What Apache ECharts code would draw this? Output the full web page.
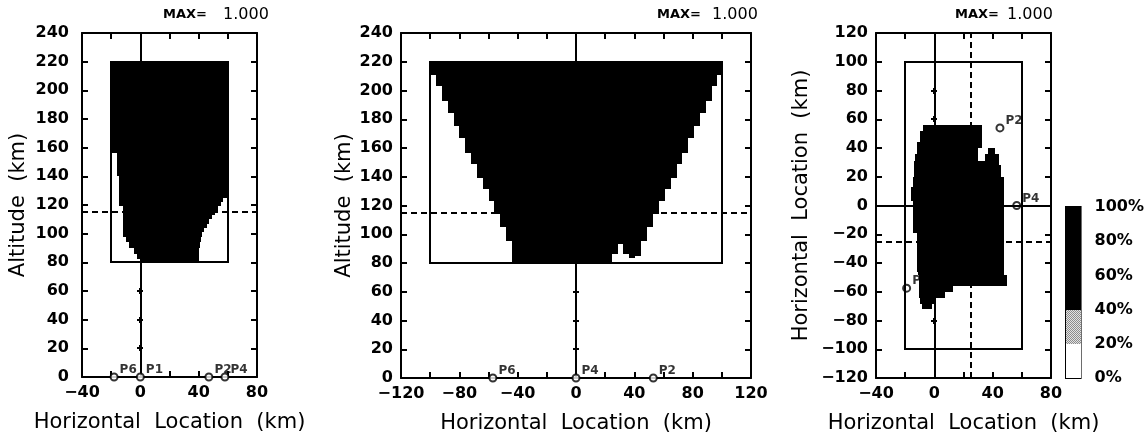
<!DOCTYPE html>
<html>
<head>
<meta charset="utf-8">
<script src="https://cdn.jsdelivr.net/npm/echarts@6/dist/echarts.min.js"></script>
<style>
  html, body { margin: 0; padding: 0; background: #ffffff; }
  #chart { width: 1147px; height: 439px; }
</style>
</head>
<body>
<div id="chart"></div>
<script>
// ---- Coverage data (km). Rows are [low, high, west, east]; every row is fully covered (1.0). ----

// Vertical section, narrow swath (x: -40..80, altitude 0..240)
const sectionARows = [
  [80, 82, -0.5, 40],
  [82, 86, -2, 40],
  [86, 90, -4.5, 40.5],
  [90, 94, -7.5, 41],
  [94, 98, -10, 41.5],
  [98, 101, -12, 42.5],
  [101, 104, -12, 44],
  [104, 107, -12, 45.5],
  [107, 110, -12, 47],
  [110, 113, -12, 49],
  [113, 116, -12, 51],
  [116, 119, -12, 53],
  [119, 122, -14.5, 55],
  [122, 125, -14.5, 57],
  [125, 128, -14.5, 59.5],
  [128, 140, -14.5, 60],
  [140, 156, -16, 60],
  [156, 220, -20, 60]
];
const sectionABox = [-20, 60, 80, 220];
const sectionASites = [['P6', -18, 0], ['P1', 0, 0], ['P2', 47, 0], ['P4', 58, 0]];
const sectionASlice = 115;

// Vertical section, wide swath (x: -120..120, altitude 0..240)
const sectionBRows = [
  [80, 95.3, -43.7, 25],
  [86.6, 95.3, 25, 28.5],
  [93, 95.3, 28.5, 32],
  [86.6, 95.3, 32, 36],
  [83.8, 95.3, 36, 40.5],
  [85, 95.3, 40.5, 44.6],
  [95.3, 104.7, -48, 49],
  [104.7, 113.9, -52, 53],
  [113.9, 123.1, -56, 57],
  [123.1, 131.3, -60, 61],
  [131.3, 139.4, -64, 65],
  [139.4, 148.6, -68, 69],
  [148.6, 156.7, -72, 72.5],
  [156.7, 167.1, -76, 77],
  [167.1, 175.2, -80, 81],
  [175.2, 184.5, -84, 85],
  [184.5, 192.6, -88, 89],
  [192.6, 203, -92, 93],
  [203, 210.6, -96, 96.5],
  [210.6, 220, -100, 100]
];
const sectionBBox = [-100, 100, 80, 220];
const sectionBSites = [['P6', -57, 0], ['P4', 0, 0], ['P2', 53, 0]];
const sectionBSlice = 115;

// Horizontal plane at the slice altitude (x: -40..80, y: -120..120)
const planRows = [
  [52, 56, -8, 33],
  [44, 52, -10, 33],
  [40, 44, -12, 33],
  [36, 40, -12, 30],
  [36, 39.8, 37, 41.6],
  [31, 36, -13, 30],
  [31, 36, 35, 44],
  [28, 31, -14, 44],
  [20, 28, -14, 46],
  [13, 20, -14.4, 47.5],
  [3, 13, -16, 47.5],
  [-19, 3, -14.4, 47.5],
  [-46, -19, -12, 47.5],
  [-48, -46, -11, 47.5],
  [-56, -48, -10.3, 49.7],
  [-60, -56, -10.3, 13],
  [-64, -60, -10.3, 7.3],
  [-68.5, -64, -10, 0.5],
  [-72, -68.5, -8.6, -1.8]
];
const planBox = [-20, 60, -100, 100];
const planSites = [['P2', 45, 54], ['P4', 56.5, 0], ['P6', -19, -57.5]];
const planCutX = 25;
const planCutY = -25;

// Colour scale (percent of maximum)
const scaleBands = [[0, 20], [20, 40], [40, 100]];
const scaleColors = ['#ffffff', 'stipple', '#000000'];
const maxValue = '1.000';

// ---- helpers ----
const FONT = 'DejaVu Sans';
const INK = '#000000';

// fine dot screen used for the intermediate band
const stipple = (function () {
  const c = document.createElement('canvas');
  c.width = 2; c.height = 2;
  const g = c.getContext('2d');
  g.fillStyle = '#e2e2e2';
  g.fillRect(0, 0, 2, 2);
  g.fillStyle = '#8c8c8c';
  g.fillRect(0, 0, 1, 1);
  g.fillRect(1, 1, 1, 1);
  return { image: c, repeat: 'repeat' };
})();

function minus(v) { return v < 0 ? '\u2212' + (-v) : String(v); }

function toCells(rows) { return rows.map(r => [r[2], r[3], r[0], r[1]]); }

function rectFrom(api) {
  const a = api.coord([api.value(0), api.value(3)]);
  const b = api.coord([api.value(1), api.value(2)]);
  const x0 = Math.round(a[0]), y0 = Math.round(a[1]);
  const x1 = Math.round(b[0]), y1 = Math.round(b[1]);
  return { x: x0, y: y0, width: x1 - x0, height: y1 - y0 };
}

function coverageSeries(axis, rows, z) {
  return {
    type: 'custom', xAxisIndex: axis, yAxisIndex: axis, z: z, silent: true,
    encode: { x: [0, 1], y: [2, 3] },
    data: toCells(rows),
    renderItem: (params, api) => ({ type: 'rect', shape: rectFrom(api), style: { fill: INK } })
  };
}

function boxSeries(axis, box) {
  return {
    type: 'custom', xAxisIndex: axis, yAxisIndex: axis, z: 6, silent: true,
    encode: { x: [0, 1], y: [2, 3] },
    data: [box],
    renderItem: (params, api) => ({
      type: 'rect', shape: rectFrom(api),
      style: { fill: 'none', stroke: INK, lineWidth: 2 }
    })
  };
}

// small cross ticks along the reference lines
function crossSeries(axis, pts) {
  return {
    type: 'custom', xAxisIndex: axis, yAxisIndex: axis, z: 6, silent: true,
    data: pts,
    renderItem: (params, api) => {
      const p = api.coord([api.value(0), api.value(1)]);
      const x = Math.round(p[0]), y = Math.round(p[1]);
      return {
        type: 'group', children: [
          { type: 'line', shape: { x1: x - 3, y1: y, x2: x + 3, y2: y }, style: { stroke: INK, lineWidth: 2 } },
          { type: 'line', shape: { x1: x, y1: y - 3, x2: x, y2: y + 3 }, style: { stroke: INK, lineWidth: 2 } }
        ]
      };
    }
  };
}

function refLine(spec, dashed) {
  return Object.assign({}, spec, {
    lineStyle: { color: INK, width: 2, type: dashed ? [6, 4] : 'solid' }
  });
}

function siteSeries(axis, sites, lines, z) {
  return {
    type: 'scatter', xAxisIndex: axis, yAxisIndex: axis, z: z, silent: true,
    symbol: 'circle', symbolSize: 7,
    itemStyle: { color: '#ffffff', borderColor: INK, borderWidth: 2 },
    label: {
      show: true, position: 'right', distance: 1, offset: [0, -7],
      formatter: p => p.name,
      fontFamily: FONT, fontWeight: 'bold', fontSize: 12, color: INK
    },
    data: sites.map(s => ({ name: s[0], value: [s[1], s[2]] })),
    markLine: {
      silent: true, symbol: ['none', 'none'], animation: false,
      label: { show: false },
      data: lines
    }
  };
}

// panel layout: left, top, width, height
const panels = [
  { left: 82, top: 33, width: 175, height: 344, x: [-40, 80], y: [0, 240], yMargin: 13, yName: 'Altitude  (km)', yGap: 53 },
  { left: 401, top: 33, width: 350, height: 345, x: [-120, 120], y: [0, 240], yMargin: 8, yName: 'Altitude  (km)', yGap: 46 },
  { left: 876, top: 33, width: 175, height: 345, x: [-40, 80], y: [-120, 120], yMargin: 8, yName: 'Horizontal  Location  (km)', yGap: 64 }
];

const tickLabel = { fontFamily: FONT, fontWeight: 'bold', fontSize: 16, color: INK };
const nameStyle = { fontFamily: FONT, fontSize: 21, color: INK };
const axisLine = { show: true, onZero: false, lineStyle: { color: INK, width: 2 } };
const inTick = { show: true, inside: true, length: 6, lineStyle: { color: INK, width: 2 } };

const grids = [], xAxes = [], yAxes = [];
panels.forEach((p, i) => {
  grids.push({ left: p.left, top: p.top, width: p.width, height: p.height, show: false });
  xAxes.push({
    gridIndex: i, type: 'value', min: p.x[0], max: p.x[1], interval: 20, position: 'bottom',
    axisLine: axisLine, axisTick: inTick, splitLine: { show: false },
    axisLabel: Object.assign({ margin: 8, formatter: v => (v % 40 === 0 ? minus(v) : '') }, tickLabel),
    name: 'Horizontal  Location  (km)', nameLocation: 'middle', nameGap: 35, nameTextStyle: nameStyle
  });
  xAxes.push({
    gridIndex: i, type: 'value', min: p.x[0], max: p.x[1], interval: 20, position: 'top',
    axisLine: axisLine, axisTick: inTick, splitLine: { show: false }, axisLabel: { show: false }
  });
  yAxes.push({
    gridIndex: i, type: 'value', min: p.y[0], max: p.y[1], interval: 20, position: 'left',
    axisLine: axisLine, axisTick: inTick, splitLine: { show: false },
    axisLabel: Object.assign({ margin: p.yMargin, formatter: v => minus(v) }, tickLabel),
    name: p.yName, nameLocation: 'middle', nameGap: p.yGap, nameTextStyle: nameStyle
  });
  yAxes.push({
    gridIndex: i, type: 'value', min: p.y[0], max: p.y[1], interval: 20, position: 'right',
    axisLine: axisLine, axisTick: inTick, splitLine: { show: false }, axisLabel: { show: false }
  });
});

// colour scale bar
grids.push({ left: 1066, top: 207, width: 17, height: 171, show: true, borderColor: INK, borderWidth: 2, backgroundColor: '#fff' });
xAxes.push({ gridIndex: 3, type: 'value', min: 0, max: 1, show: false });
yAxes.push({
  gridIndex: 3, type: 'value', min: 0, max: 100, interval: 20, position: 'right',
  axisLine: { show: false }, axisTick: { show: false }, splitLine: { show: false },
  axisLabel: Object.assign({ margin: 14, formatter: '{value}%' }, tickLabel)
});

// axis index helpers: bottom/left axes are even, mirrors are odd
const AX = [0, 2, 4];

const series = [
  // narrow section
  coverageSeries(AX[0], sectionARows, 3),
  boxSeries(AX[0], sectionABox),
  crossSeries(AX[0], [[0, 20], [0, 40], [0, 60]]),
  siteSeries(AX[0], sectionASites, [
    refLine({ xAxis: 0 }, false),
    refLine({ yAxis: sectionASlice }, true)
  ], 7),
  // wide section
  coverageSeries(AX[1], sectionBRows, 3),
  boxSeries(AX[1], sectionBBox),
  crossSeries(AX[1], [[0, 20], [0, 40], [0, 60]]),
  siteSeries(AX[1], sectionBSites, [
    refLine({ xAxis: 0 }, false),
    refLine({ yAxis: sectionBSlice }, true)
  ], 7),
  // plan view: sites sit under the coverage so the fill overlays their labels
  siteSeries(AX[2], planSites, [
    refLine({ xAxis: 0 }, false),
    refLine({ yAxis: 0 }, false),
    refLine({ xAxis: planCutX }, true),
    refLine({ yAxis: planCutY }, true)
  ], 2),
  coverageSeries(AX[2], planRows, 3),
  boxSeries(AX[2], planBox),
  crossSeries(AX[2], [[0, 80], [0, 60], [0, -80], [-20, 0], [20, 0], [40, 0]]),
  // scale bar bands
  {
    type: 'custom', xAxisIndex: 6, yAxisIndex: 6, z: 2, silent: true,
    encode: { x: [0, 1], y: [2, 3] },
    data: scaleBands.map((b, k) => [0, 1, b[0], b[1], k]),
    renderItem: (params, api) => {
      const c = scaleColors[api.value(4)];
      return { type: 'rect', shape: rectFrom(api), style: { fill: c === 'stipple' ? stipple : c } };
    }
  }
];

// "MAX=" annotations above each panel
const maxLabels = [[163, 223], [657, 712], [955, 1007]].map(pos => ([
  { type: 'text', left: pos[0], top: 8, style: { text: 'MAX=', font: 'bold 13px "' + FONT + '"', fill: INK } },
  { type: 'text', left: pos[1], top: 7, style: { text: maxValue, font: '16px "' + FONT + '"', fill: INK } }
])).flat();

const chart = echarts.init(document.getElementById('chart'), null, { renderer: 'canvas' });
chart.setOption({
  animation: false,
  backgroundColor: '#ffffff',
  grid: grids,
  xAxis: xAxes,
  yAxis: yAxes,
  series: series,
  graphic: maxLabels
});
</script>
</body>
</html>
